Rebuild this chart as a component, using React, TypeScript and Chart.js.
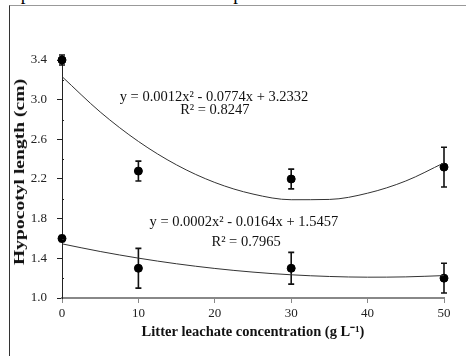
import React, { useEffect, useRef } from "react";
import { Chart, registerables } from "chart.js";

Chart.register(...registerables);

const concentrations = [0, 10, 30, 50];
const upperMeans = [3.4, 2.28, 2.2, 2.32];
const upperErr = [0.05, 0.1, 0.1, 0.2];
const lowerMeans = [1.6, 1.3, 1.3, 1.2];
const lowerErr = [0.03, 0.2, 0.16, 0.15];

const fitX = [0, 5, 10, 15, 20, 25, 30, 35, 40, 45, 50];
const upperFit = [3.233, 2.876, 2.579, 2.342, 2.165, 2.048, 1.991, 1.994, 2.057, 2.18, 2.363];
const lowerFit = [1.546, 1.469, 1.402, 1.345, 1.298, 1.261, 1.234, 1.217, 1.21, 1.213, 1.226];

const xTicks = [0, 10, 20, 30, 40, 50];
const yTicks = [1.0, 1.4, 1.8, 2.2, 2.6, 3.0, 3.4];

const xTitle = "Litter leachate concentration (g L\u207B\u00B9)";
const yTitle = "Hypocotyl length (cm)";
const caption = "represent the means of four replicates.";

const upperEq = "y = 0.0012x\u00B2 - 0.0774x + 3.2332";
const upperR2 = "R\u00B2 = 0.8247";
const lowerEq = "y = 0.0002x\u00B2 - 0.0164x + 1.5457";
const lowerR2 = "R\u00B2 = 0.7965";
const annotations = [
  { text: upperEq, x: 19.9, y: 3.025 },
  { text: upperR2, x: 20.0, y: 2.895 },
  { text: lowerEq, x: 23.8, y: 1.76 },
  { text: lowerR2, x: 24.1, y: 1.56 },
];

const SERIF = "'Liberation Serif', 'Times New Roman', serif";

const errorBarPlugin = {
  id: "errorBars",
  beforeDatasetsDraw(chart: any) {
    const { ctx, scales } = chart;
    const xs = scales.x;
    const ys = scales.y;
    const draw = (means: number[], errs: number[]) => {
      ctx.save();
      ctx.strokeStyle = "#111";
      ctx.lineWidth = 1.6;
      means.forEach((m, i) => {
        const px = xs.getPixelForValue(concentrations[i]);
        const top = ys.getPixelForValue(m + errs[i]);
        const bot = ys.getPixelForValue(m - errs[i]);
        ctx.beginPath();
        ctx.moveTo(px, top);
        ctx.lineTo(px, bot);
        ctx.moveTo(px - 3, top);
        ctx.lineTo(px + 3, top);
        ctx.moveTo(px - 3, bot);
        ctx.lineTo(px + 3, bot);
        ctx.stroke();
      });
      ctx.restore();
    };
    draw(upperMeans, upperErr);
    draw(lowerMeans, lowerErr);
  },
  afterDraw(chart: any) {
    const { ctx, scales } = chart;
    ctx.save();
    ctx.fillStyle = "#111";
    ctx.font = `14.5px ${SERIF}`;
    ctx.textAlign = "center";
    ctx.textBaseline = "middle";
    annotations.forEach((a) => {
      ctx.fillText(a.text, scales.x.getPixelForValue(a.x), scales.y.getPixelForValue(a.y));
    });
    // minor y ticks
    ctx.strokeStyle = "#222";
    ctx.lineWidth = 1;
    const ax = scales.y.right;
    for (let i = 0; i < yTicks.length - 1; i++) {
      const v = (yTicks[i] + yTicks[i + 1]) / 2;
      const py = Math.round(scales.y.getPixelForValue(v)) + 0.5;
      ctx.beginPath();
      ctx.moveTo(ax, py);
      ctx.lineTo(ax + 2, py);
      ctx.stroke();
    }
    ctx.restore();
  },
};

export default function App() {
  const ref = useRef<HTMLCanvasElement | null>(null);
  useEffect(() => {
    if (!ref.current) return;
    const chart = new Chart(ref.current, {
      type: "scatter",
      data: {
        datasets: [
          {
            type: "line",
            data: fitX.map((x, i) => ({ x, y: upperFit[i] })),
            borderColor: "#333",
            borderWidth: 1,
            pointRadius: 0,
            cubicInterpolationMode: "monotone",
            fill: false,
          } as any,
          {
            type: "line",
            data: fitX.map((x, i) => ({ x, y: lowerFit[i] })),
            borderColor: "#333",
            borderWidth: 1,
            pointRadius: 0,
            cubicInterpolationMode: "monotone",
            fill: false,
          } as any,
          {
            data: concentrations.map((x, i) => ({ x, y: upperMeans[i] })),
            backgroundColor: "#000",
            borderColor: "#000",
            pointRadius: 4,
            clip: false,
          } as any,
          {
            data: concentrations.map((x, i) => ({ x, y: lowerMeans[i] })),
            backgroundColor: "#000",
            borderColor: "#000",
            pointRadius: 4,
            clip: false,
          } as any,
        ],
      },
      options: {
        animation: false,
        responsive: false,
        devicePixelRatio: 1,
        layout: { padding: { left: 0, right: 22, top: 60, bottom: 0 } },
        plugins: { legend: { display: false }, tooltip: { enabled: false } },
        scales: {
          x: {
            type: "linear",
            min: 0,
            max: 50,
            afterFit: (s: any) => {
              s.height = 58;
            },
            afterBuildTicks: (s: any) => {
              s.ticks = xTicks.map((v) => ({ value: v }));
            },
            border: { display: true, color: "#888", width: 2 },
            grid: { drawOnChartArea: false, tickLength: 5, color: "#888" },
            ticks: {
              color: "#222",
              padding: 3,
              font: { family: SERIF, size: 13 },
              callback: (v: any) => String(v),
            },
            title: {
              display: true,
              text: xTitle,
              color: "#111",
              font: { family: SERIF, size: 14.5, weight: "bold" },
              padding: { top: 0, bottom: 15 },
            },
          },
          y: {
            type: "linear",
            min: 1.0,
            max: 3.4,
            afterFit: (s: any) => {
              s.width = 62;
            },
            afterBuildTicks: (s: any) => {
              s.ticks = yTicks.map((v) => ({ value: v }));
            },
            border: { display: true, color: "#222", width: 1 },
            grid: { drawOnChartArea: false, tickLength: 5, color: "#222" },
            ticks: {
              color: "#222",
              padding: 10,
              font: { family: SERIF, size: 13 },
              callback: (v: any) => Number(v).toFixed(1),
            },
            title: { display: false },
          },
        },
      },
      plugins: [errorBarPlugin],
    });
    return () => chart.destroy();
  }, []);

  return (
    <div
      style={{
        position: "absolute",
        left: 0,
        top: 0,
        width: 466,
        height: 356,
        overflow: "hidden",
        background: "#fff",
      }}
    >
      <div
        style={{
          position: "absolute",
          left: 6,
          top: -16,
          fontFamily: SERIF,
          fontSize: 19,
          lineHeight: "19px",
          whiteSpace: "nowrap",
          color: "#000",
        }}
      >
        {caption}
      </div>
      <div
        style={{
          position: "absolute",
          left: 9,
          top: 5,
          width: 470,
          height: 360,
          borderLeft: "1px solid #333",
          borderTop: "1px solid #999",
        }}
      />
      <canvas
        ref={ref}
        width={466}
        height={356}
        style={{ position: "absolute", left: 0, top: 0, width: 466, height: 356 }}
      />
      <div
        style={{
          position: "absolute",
          left: 20,
          top: 172,
          width: 0,
          height: 0,
        }}
      >
        <div
          style={{
            position: "absolute",
            left: 0,
            top: 0,
            transform: "translate(-50%, -50%) rotate(-90deg) scaleX(1.4)",
            fontFamily: SERIF,
            fontWeight: "bold",
            fontSize: 14,
            lineHeight: "16px",
            whiteSpace: "nowrap",
            color: "#111",
          }}
        >
          {yTitle}
        </div>
      </div>
    </div>
  );
}
